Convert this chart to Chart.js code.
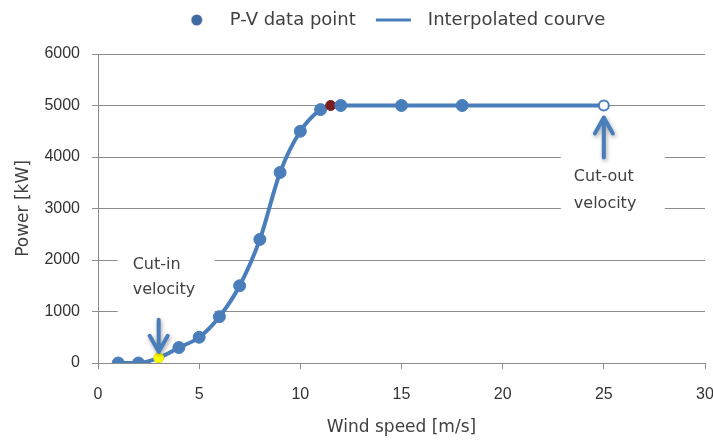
<!DOCTYPE html>
<html>
<head>
<meta charset="utf-8">
<script src="https://cdn.jsdelivr.net/npm/chart.js@4.4.0/dist/chart.umd.min.js"></script>
<style>
  html, body { margin: 0; padding: 0; background: #fff; }
  #wrap { width: 713px; height: 444px; }
</style>
</head>
<body>
<div id="wrap"><canvas id="pv-chart"></canvas></div>
<script>
// P-V curve of the turbine: wind speed [m/s] -> power [kW]
const windSpeed = [1, 2, 3, 4, 5, 6, 7, 8, 9, 10, 11, 11.5, 12, 15, 18, 25];
const power = [0, 0, 100, 300, 500, 900, 1500, 2400, 3700, 4500, 4920, 5000, 5000, 5000, 5000, 5000];

// special points on the curve
const cutInSpeed = 3;
const ratedSpeed = 11.5;
const cutOutSpeed = 25;

// notes with arrows next to the cut-in / cut-out points
const noteSpeeds = [3, 25];
const notePowers = [100, 5000];
const noteLabels = [['Cut-in', 'velocity'], ['Cut-out', 'velocity']];

// axes
const xMax = 30, xStep = 5;
const yMax = 6000, yStep = 1000;

const seriesNames = ['P-V data point', 'Interpolated courve'];

const blue = '#4a7ebb';
const gridGrey = '#8c8c8c';
const textGrey = '#404040';

const points = windSpeed.map((v, i) => ({ x: v, y: power[i] }));

const pointFill = windSpeed.map(v =>
    v === cutInSpeed ? '#ffff00' : v === ratedSpeed ? '#7a1e1e' : v === cutOutSpeed ? '#ffffff' : blue);
const pointBorder = windSpeed.map(v =>
    v === cutInSpeed ? '#e0e000' : v === ratedSpeed ? '#7a1e1e' : blue);
const pointRad = windSpeed.map(v =>
    (v === cutInSpeed || v === ratedSpeed || v === cutOutSpeed) ? 5 : 6);
const pointBw = windSpeed.map(v => v === cutOutSpeed ? 2 : 1);

// small images used as legend markers
function legendIcon(w, h, draw) {
    const c = document.createElement('canvas');
    c.width = w;
    c.height = h;
    draw(c.getContext('2d'));
    return c;
}
const dotIcon = legendIcon(53, 14, ctx => {
    ctx.fillStyle = '#3f6aa0';
    ctx.beginPath();
    ctx.arc(29, 7, 5.5, 0, Math.PI * 2);
    ctx.fill();
});
const lineIcon = legendIcon(53, 14, ctx => {
    ctx.strokeStyle = blue;
    ctx.lineWidth = 3;
    ctx.beginPath();
    ctx.moveTo(10, 7);
    ctx.lineTo(45, 7);
    ctx.stroke();
});

// more room under the legend, and legend nudged a little to the left
const legendGap = {
    id: 'legendGap',
    beforeInit(chart) {
        const fit = chart.legend.fit;
        chart.legend.fit = function () {
            fit.bind(chart.legend)();
            this.height += 15;
        };
    },
    afterLayout(chart) {
        chart.legend.left -= 15;
        chart.legend.right -= 15;
    }
};

// white boxes, arrows and text for the cut-in / cut-out notes
const notes = {
    id: 'velocityNotes',
    // box [dx, dy, w, h], text [dx, dy line 1, dy line 2], arrow [tail dy, tip dy]
    layout: [
        { box: [-41, -113, 97, 80], text: [-26, -93, -68], arrow: [-38, -6] },
        { box: [-43, 35, 104, 80], text: [-30, 71, 98], arrow: [52, 12] }
    ],
    beforeDatasetsDraw(chart) {
        const ctx = chart.ctx;
        const xs = chart.scales.x, ys = chart.scales.y;
        ctx.save();
        ctx.fillStyle = '#ffffff';
        noteSpeeds.forEach((v, i) => {
            const px = xs.getPixelForValue(v), py = ys.getPixelForValue(notePowers[i]);
            const b = this.layout[i].box;
            ctx.fillRect(px + b[0], py + b[1], b[2], b[3]);
        });
        ctx.restore();
    },
    afterDatasetsDraw(chart) {
        const ctx = chart.ctx;
        const xs = chart.scales.x, ys = chart.scales.y;
        noteSpeeds.forEach((v, i) => {
            const px = xs.getPixelForValue(v), py = ys.getPixelForValue(notePowers[i]);
            const l = this.layout[i];
            const tail = py + l.arrow[0], tip = py + l.arrow[1];
            const d = Math.sign(l.arrow[0]);

            // arrow
            ctx.save();
            ctx.shadowColor = 'rgba(0,0,0,0.35)';
            ctx.shadowBlur = 4;
            ctx.shadowOffsetX = 1;
            ctx.shadowOffsetY = 2;
            ctx.strokeStyle = blue;
            ctx.lineWidth = 4;
            ctx.lineCap = 'round';
            ctx.lineJoin = 'round';
            ctx.beginPath();
            ctx.moveTo(px, tail);
            ctx.lineTo(px, tip);
            ctx.moveTo(px - 9, tip + d * 16);
            ctx.lineTo(px, tip);
            ctx.lineTo(px + 9, tip + d * 16);
            ctx.stroke();
            ctx.restore();

            // text
            ctx.save();
            ctx.fillStyle = textGrey;
            ctx.font = '16px "DejaVu Sans"';
            ctx.textAlign = 'left';
            ctx.textBaseline = 'middle';
            ctx.fillText(noteLabels[i][0], px + l.text[0], py + l.text[1]);
            ctx.fillText(noteLabels[i][1], px + l.text[0], py + l.text[2]);
            ctx.restore();
        });
    }
};

const ctx = document.getElementById('pv-chart').getContext('2d');

const pvChart = new Chart(ctx, {
    type: 'scatter',
    data: {
        datasets: [{
            label: seriesNames[0],
            data: points,
            showLine: false,
            pointRadius: pointRad,
            pointHoverRadius: pointRad,
            pointBackgroundColor: pointFill,
            pointBorderColor: pointBorder,
            pointBorderWidth: pointBw
        }, {
            label: seriesNames[1],
            data: points,
            showLine: true,
            borderColor: blue,
            borderWidth: 4,
            borderCapStyle: 'round',
            borderJoinStyle: 'round',
            cubicInterpolationMode: 'monotone',
            pointRadius: 0
        }]
    },
    options: {
        responsive: true,
        maintainAspectRatio: false,
        animation: false,
        layout: { padding: { top: 1, left: 0, right: 0, bottom: 0 } },
        plugins: {
            tooltip: { enabled: false },
            legend: {
                position: 'top',
                fullSize: false,
                labels: {
                    usePointStyle: true,
                    pointStyleWidth: 53,
                    padding: 10,
                    color: textGrey,
                    font: { family: '"DejaVu Sans"', size: 18 },
                    generateLabels: () => [
                        { text: seriesNames[0], pointStyle: dotIcon, fillStyle: blue, strokeStyle: blue, lineWidth: 0, datasetIndex: 0, fontColor: textGrey },
                        { text: seriesNames[1], pointStyle: lineIcon, fillStyle: blue, strokeStyle: blue, lineWidth: 0, datasetIndex: 1, fontColor: textGrey }
                    ]
                }
            }
        },
        scales: {
            x: {
                type: 'linear',
                min: 0,
                max: xMax,
                afterFit: scale => {
                    scale.height = 81;
                    scale.paddingRight = 8;
                },
                ticks: {
                    stepSize: xStep,
                    padding: 16,
                    color: '#333',
                    font: { family: '"Liberation Sans"', size: 16 }
                },
                grid: {
                    drawOnChartArea: false,
                    drawTicks: true,
                    tickLength: 6,
                    color: gridGrey
                },
                border: { display: true, color: gridGrey, width: 1 },
                title: {
                    display: true,
                    text: 'Wind speed [m/s]',
                    color: textGrey,
                    font: { family: '"DejaVu Sans"', size: 17 },
                    padding: { top: 0, bottom: 6 }
                }
            },
            y: {
                min: 0,
                max: yMax,
                afterFit: scale => { scale.width = 98; },
                ticks: {
                    stepSize: yStep,
                    padding: 12,
                    color: '#333',
                    font: { family: '"Liberation Sans"', size: 16 },
                    callback: value => String(value)
                },
                grid: {
                    color: gridGrey,
                    lineWidth: 1,
                    drawTicks: true,
                    tickLength: 6
                },
                border: { display: true, color: gridGrey, width: 1 },
                title: {
                    display: true,
                    text: 'Power [kW]',
                    color: textGrey,
                    font: { family: '"DejaVu Sans"', size: 17 },
                    padding: { top: 13, bottom: 0 }
                }
            }
        }
    },
    plugins: [legendGap, notes]
});
</script>
</body>
</html>
